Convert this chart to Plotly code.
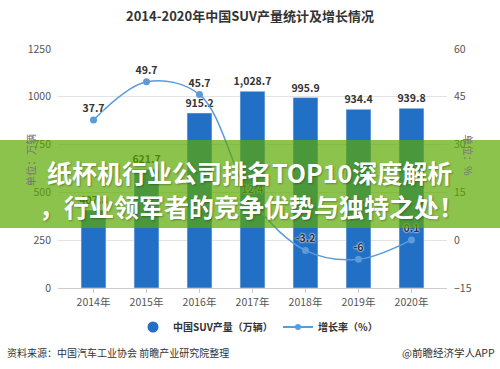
import plotly.graph_objects as go

years = ["2014年", "2015年", "2016年", "2017年", "2018年", "2019年", "2020年"]
production = [407.8, 621.7, 915.2, 1028.7, 995.9, 934.4, 939.8]
growth = [37.7, 49.7, 45.7, 12.4, -3.2, -6, 0.1]
growth_labels = ["37.7", "49.7", "45.7", "12.4", "-3.2", "-6", "0.1"]
left_ticks = [0, 250, 500, 750, 1000, 1250]
right_ticks = [-15, 0, 15, 30, 45, 60]

FONT = "Noto Sans CJK SC, Microsoft YaHei, sans-serif"
BAR_COLOR = "#2270c6"
LINE_COLOR = "#5b9bd9"
W, H = 500, 369
L, R, T, B = 58, 53, 49, 81
pw, ph = W - L - R, H - T - B


def px(x):
    return (x - L) / pw


def py(y):
    return (H - B - y) / ph


fig = go.Figure()
fig.add_trace(go.Bar(
    x=years, y=production, marker_color=BAR_COLOR, width=0.47,
    texttemplate="%{y:,.1f}", textposition="outside", constraintext="none",
    textfont=dict(family=FONT, size=10.5, color="#333", weight="bold"),
    cliponaxis=False, showlegend=False, name="中国SUV产量（万辆）",
))
fig.add_trace(go.Scatter(
    x=years, y=growth, yaxis="y2", mode="lines+markers+text",
    line=dict(color=LINE_COLOR, width=1.5, shape="spline", smoothing=1),
    marker=dict(color=LINE_COLOR, size=7),
    text=growth_labels, textposition="top center",
    textfont=dict(family=FONT, size=10.5, color="#333", weight="bold",
                  shadow="0px 0px 2px #fff, 0px 0px 2px #fff"),
    cliponaxis=False, showlegend=False, name="增长率（%）",
))
# legend proxies
fig.add_trace(go.Scatter(
    x=[None], y=[None], mode="markers", name="中国SUV产量（万辆）",
    marker=dict(color=BAR_COLOR, size=11, symbol="circle"),
))
fig.add_trace(go.Scatter(
    x=[None], y=[None], mode="lines+markers", name="增长率（%）",
    line=dict(color=LINE_COLOR, width=2), marker=dict(color=LINE_COLOR, size=6),
))

fig.update_layout(
    width=W, height=H, margin=dict(l=L, r=R, t=T, b=B, autoexpand=False),
    paper_bgcolor="white", plot_bgcolor="white",
    font=dict(family=FONT, size=11, color="#555"),
    title=dict(text="<b>2014-2020年中国SUV产量统计及增长情况</b>", x=0.5, xanchor="center",
               y=1 - 16 / H, yanchor="middle", font=dict(size=13, color="#333")),
    xaxis=dict(range=[-0.67, 6.67], showgrid=False, showline=True, linecolor="#ccc",
               ticks="outside", ticklen=4, tickcolor="#ccc",
               tickfont=dict(size=10.5, color="#555")),
    yaxis=dict(range=[0, 1250], tickvals=left_ticks, showgrid=True, gridcolor="#e3e3e3",
               zeroline=False, tickfont=dict(size=10.5, color="#555"), ticklabelstandoff=6),
    yaxis2=dict(range=[-15, 60], tickvals=right_ticks, overlaying="y", side="right",
                showgrid=False, zeroline=False, tickfont=dict(size=10.5, color="#555"),
                ticklabelstandoff=6),
    bargap=0.5,
    legend=dict(orientation="h", x=px(133), xanchor="left", y=py(327), yanchor="middle",
                font=dict(size=10, color="#333", weight="bold"), itemwidth=30,
                entrywidth=100, entrywidthmode="pixels"),
)

fig.add_annotation(text="单位：万辆", xref="paper", yref="paper", x=px(20), y=py(160),
                   textangle=-90, showarrow=False, font=dict(size=10.5, color="#777"))
fig.add_annotation(text="单位：%", xref="paper", yref="paper", x=px(478), y=py(155),
                   textangle=90, showarrow=False, font=dict(size=10.5, color="#777"))

fig.add_annotation(text="资料来源：中国汽车工业协会 前瞻产业研究院整理", xref="paper", yref="paper",
                   x=px(5), y=py(352), xanchor="left", yanchor="middle", showarrow=False,
                   font=dict(size=10, color="#333"))
fig.add_annotation(text="@前瞻经济学人APP", xref="paper", yref="paper",
                   x=px(497), y=py(352), xanchor="right", yanchor="middle", showarrow=False,
                   font=dict(size=10.5, color="#333"))

# overlay banner
fig.add_shape(type="rect", xref="paper", yref="paper", x0=px(0), x1=px(500),
              y0=py(228), y1=py(140), fillcolor="rgba(91,169,0,0.7)",
              line=dict(width=0), layer="above")
fig.add_annotation(text="纸杯机行业公司排名TOP10深度解析", xref="paper", yref="paper",
                   x=px(249), y=py(172), showarrow=False,
                   font=dict(size=25, color="white", weight="bold",
                             shadow="1px 1px 2px rgba(0,0,0,0.3)"))
fig.add_annotation(text="，行业领军者的竞争优势与独特之处！", xref="paper", yref="paper",
                   x=px(251), y=py(206), showarrow=False,
                   font=dict(size=25, color="white", weight="bold",
                             shadow="1px 1px 2px rgba(0,0,0,0.3)"))

fig.write_html("out.html", config={"displayModeBar": False},
               post_script="document.body.style.margin='0';")
